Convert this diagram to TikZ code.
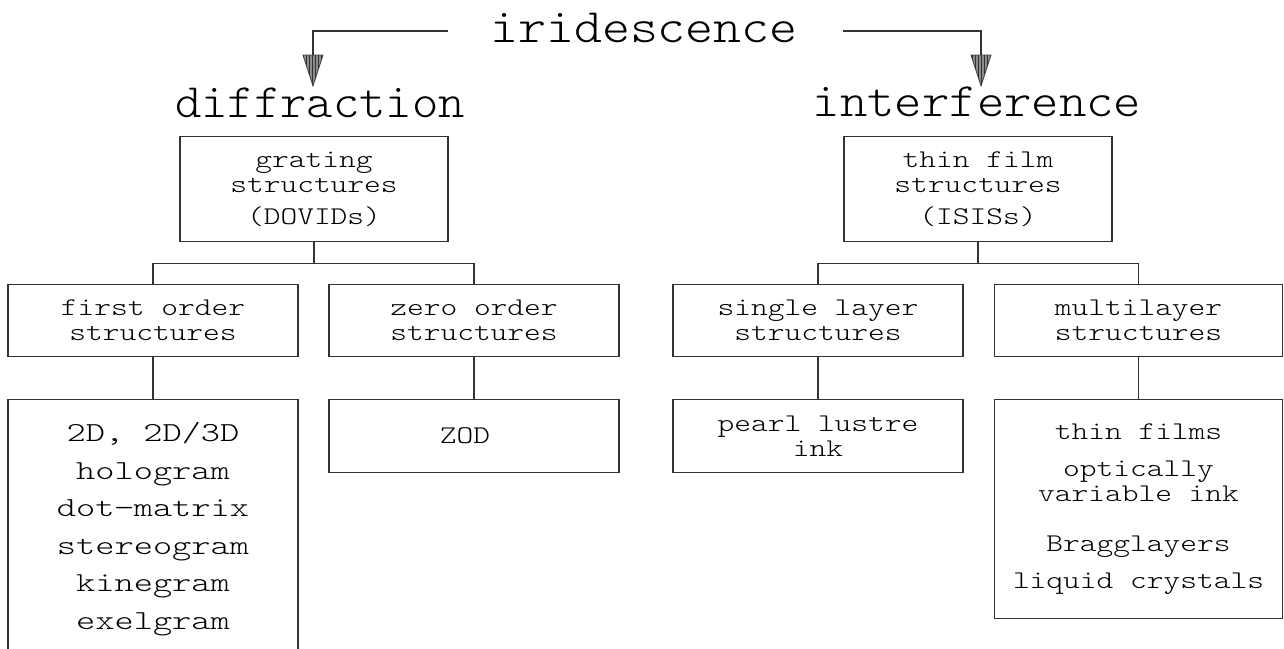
\documentclass[tikz,border=0pt]{standalone}
\usepackage{fontspec}
\usetikzlibrary{patterns}

% monospaced light face, widened per use
\newfontfamily\dgIri[FakeStretch=1.11]{lmmonolt10-regular.otf}
\newfontfamily\dgDiff[FakeStretch=1.045]{lmmonolt10-regular.otf}
\newfontfamily\dgInter[FakeStretch=1.085]{lmmonolt10-regular.otf}
\newfontfamily\dgBox[FakeStretch=1.25]{lmmonolt10-regular.otf}
\newfontfamily\dgBig[FakeStretch=1.33]{lmmonolt10-regular.otf}

\newcommand\dgBoxFont{\dgBox\fontsize{25.5}{25}\selectfont}
\newcommand\dgBigFont{\dgBig\fontsize{27.5}{37.6}\selectfont}

\tikzset{
  wire/.style={draw=black!80, line width=1.3pt},
  title/.style={anchor=base, inner sep=0pt},
  box/.style={draw=black!80, line width=1.3pt, anchor=north, align=center,
              inner sep=0pt, font=\dgBoxFont},
  bigbox/.style={box, font=\dgBigFont},
  headtip/.style={fill=black!45, draw=black!75, line width=0.8pt,
                  postaction={pattern=vertical lines, pattern color=black!80}},
}

\begin{document}
\begin{tikzpicture}[x=1pt, y=-1pt]
\useasboundingbox (0,0) rectangle (1284,648);
\clip (0,0) rectangle (1284,648);

% headings
\node[title, font=\dgIri\fontsize{48}{50}\selectfont]   (iri)   at (644,42)  {iridescence};
\node[title, font=\dgDiff\fontsize{48}{50}\selectfont]  (diff)  at (320,117) {diffraction};
\node[title, font=\dgInter\fontsize{48}{50}\selectfont] (inter) at (977,116) {interference};

% arrows from the main heading
\coordinate (iriL) at (448,31);
\coordinate (iriR) at (843,31);
\coordinate (tipL) at (313,55);
\coordinate (tipR) at (981,55);
\draw[wire] (iriL) -| (tipL);
\draw[wire] (iriR) -| (tipR);
\path[headtip] ([xshift=-10pt]tipL) -- ([xshift=10pt]tipL) -- ([yshift=-31pt]tipL) -- cycle;
\path[headtip] ([xshift=-10pt]tipR) -- ([xshift=10pt]tipR) -- ([yshift=-31pt]tipR) -- cycle;

% diffraction branch
\node[box, minimum width=268pt, minimum height=105pt] (grating) at (314,136)
  {grating\\structures\\[7pt](DOVIDs)};
\node[box, minimum width=290pt, minimum height=72pt] (first) at (153,284)
  {first order\\structures};
\node[box, minimum width=290pt, minimum height=72pt] (zero) at (474,284)
  {zero order\\structures};
\node[bigbox, minimum width=290pt, minimum height=259pt] (dovid) at (153,399)
  {2D, 2D/3D\\hologram\\dot\textminus matrix\\stereogram\\kinegram\\exelgram};
\node[box, minimum width=290pt, minimum height=73pt] (zod) at (474,399)
  {\raisebox{-5pt}{ZOD\hspace*{18pt}}};

% interference branch
\node[box, minimum width=268pt, minimum height=105pt] (thin) at (978,136)
  {thin film\\structures\\[7pt](ISISs)};
\node[box, minimum width=290pt, minimum height=72pt] (single) at (818,284)
  {single layer\\structures};
\node[box, minimum width=288pt, minimum height=72pt] (multi) at (1138.5,284)
  {multilayer\\structures};
\node[box, minimum width=290pt, minimum height=73pt] (pearl) at (818,399)
  {pearl lustre\\ink};
\node[box, minimum width=288pt, minimum height=219pt] (films) at (1138.5,399)
  {thin films\\[12pt]optically\\variable ink\\[25pt]Bragglayers\\[12pt]liquid crystals};

% tree connectors
\draw[wire] (grating.south) -- ++(0,21) -| (first.north);
\draw[wire] (grating.south) -- ++(0,21) -| (zero.north);
\draw[wire] (first.south) -- (dovid.north);
\draw[wire] (zero.south) -- (zod.north);
\draw[wire] (thin.south) -- ++(0,21) -| (single.north);
\draw[wire] (thin.south) -- ++(0,21) -| (multi.north);
\draw[wire] (single.south) -- (pearl.north);
\draw[wire] (multi.south) -- (films.north);
\end{tikzpicture}
\end{document}
